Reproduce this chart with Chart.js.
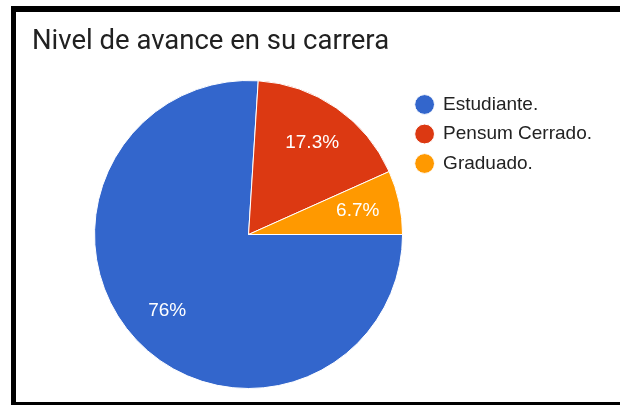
<!DOCTYPE html>
<html>
<head>
<meta charset="utf-8">
<script src="https://cdn.jsdelivr.net/npm/chart.js@4"></script>
<style>
  html, body { margin: 0; padding: 0; background: #fff; overflow: hidden; width: 620px; height: 405px; }
  #wrap { position: relative; width: 620px; height: 405px; overflow: hidden; }
  #frame { position: absolute; left: 11px; top: 6px; width: 604px; height: 390px;
           border-left: 5px solid #000; border-top: 6px solid #000; border-bottom: 5px solid #000; }
  #c { position: absolute; left: 0; top: 0; }
</style>
</head>
<body>
<div id="wrap">
  <div id="frame"></div>
  <canvas id="c" width="620" height="405"></canvas>
</div>
<script>
const chartTitle = "Nivel de avance en su carrera";
const categories = ["Estudiante.", "Pensum Cerrado.", "Graduado."];
const percentages = [76, 17.3, 6.7];
const sliceColors = ["#3366CC", "#DC3912", "#FF9900"];

const titlePlugin = {
  id: 'customTitle',
  afterDraw(chart) {
    const ctx = chart.ctx;
    ctx.save();
    ctx.font = '27.5px Roboto';
    ctx.fillStyle = '#212121';
    ctx.textAlign = 'left';
    ctx.textBaseline = 'alphabetic';
    ctx.fillText(chartTitle, 32, 49);
    ctx.restore();
  }
};

const sliceLabelPlugin = {
  id: 'sliceLabels',
  afterDatasetsDraw(chart) {
    const ctx = chart.ctx;
    const meta = chart.getDatasetMeta(0);
    ctx.save();
    ctx.font = '19px "Liberation Sans", Arial, sans-serif';
    ctx.fillStyle = '#ffffff';
    ctx.textAlign = 'center';
    ctx.textBaseline = 'middle';
    meta.data.forEach((arc, i) => {
      const p = arc.getProps(['x', 'y', 'startAngle', 'endAngle', 'outerRadius'], true);
      const mid = (p.startAngle + p.endAngle) / 2;
      const r = p.outerRadius * 0.725;
      ctx.fillText(percentages[i] + '%', p.x + Math.cos(mid) * r, p.y + Math.sin(mid) * r);
    });
    ctx.restore();
  }
};

new Chart(document.getElementById('c'), {
  type: 'pie',
  data: {
    labels: categories,
    datasets: [{
      data: percentages,
      backgroundColor: sliceColors,
      borderColor: '#ffffff',
      borderWidth: 1
    }]
  },
  options: {
    responsive: false,
    devicePixelRatio: 1,
    animation: false,
    events: [],
    rotation: 90,
    layout: { padding: { top: 80, bottom: 16, left: 92, right: 18 } },
    plugins: {
      tooltip: { enabled: false },
      title: { display: false },
      legend: {
        display: true,
        position: 'right',
        align: 'start',
        title: { display: true, text: '', padding: 0, font: { size: 4.5, lineHeight: 1 } },
        labels: {
          usePointStyle: true,
          pointStyle: 'circle',
          boxWidth: 18,
          boxHeight: 14,
          padding: 10.5,
          color: '#222222',
          font: { family: '"Liberation Sans", Arial, sans-serif', size: 19 }
        }
      }
    }
  },
  plugins: [sliceLabelPlugin, titlePlugin]
});
</script>
</body>
</html>
